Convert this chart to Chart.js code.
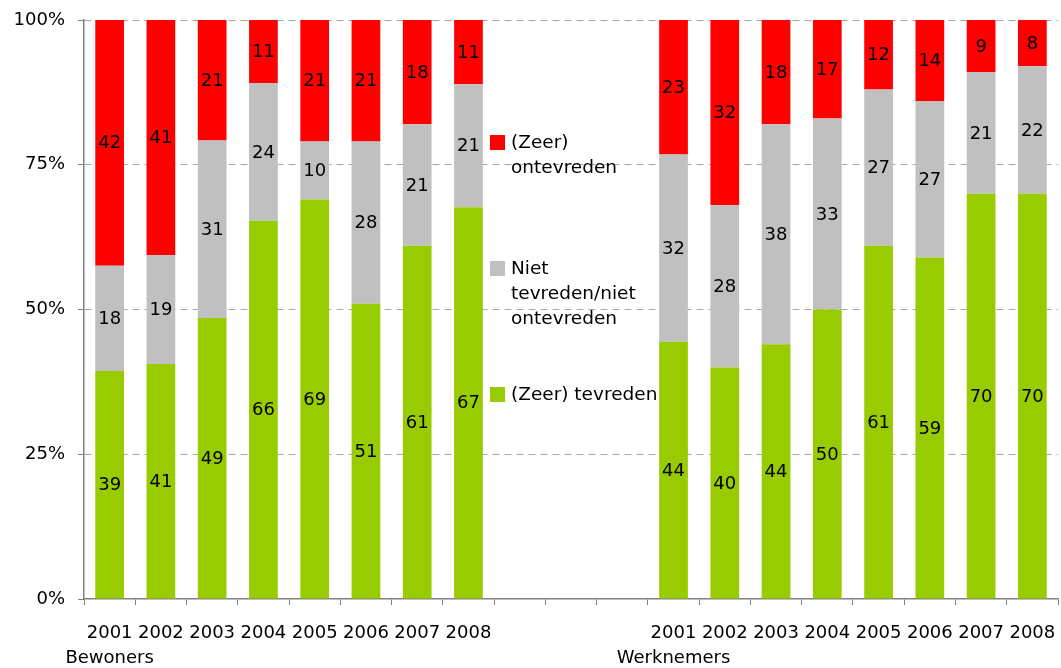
<!DOCTYPE html>
<html>
<head>
<meta charset="utf-8">
<title>Tevredenheid bewoners en werknemers</title>
<script src="https://cdn.jsdelivr.net/npm/chart.js@4.4.1/dist/chart.umd.min.js"></script>
<style>
  html, body { margin: 0; padding: 0; background: #fff; }
  #chart { display: block; }
</style>
</head>
<body>
<canvas id="chart" width="1061" height="668"></canvas>
<script>
// values as printed in the bars (they do not always add up to exactly 100)
const years = ['2001', '2002', '2003', '2004', '2005', '2006', '2007', '2008'];
const groups = ['Bewoners', 'Werknemers'];
const gapCount = 3;

const seriesNames = ['(Zeer) ontevreden', 'Niet tevreden/niet ontevreden', '(Zeer) tevreden'];

const bewonersTevreden   = [39, 41, 49, 66, 69, 51, 61, 67];
const bewonersNeutraal   = [18, 19, 31, 24, 10, 28, 21, 21];
const bewonersOntevreden = [42, 41, 21, 11, 21, 21, 18, 11];

const werknemersTevreden   = [44, 40, 44, 50, 61, 59, 70, 70];
const werknemersNeutraal   = [32, 28, 38, 33, 27, 27, 21, 22];
const werknemersOntevreden = [23, 32, 18, 17, 12, 14, 9, 8];

const colors = { ontevreden: '#FF0000', neutraal: '#C0C0C0', tevreden: '#99CC00' };
const FONT = '"DejaVu Sans", Verdana, sans-serif';

// build labels: group name goes under the first year of every group
function buildLabels() {
  const out = [];
  years.forEach((y, i) => out.push(i === 0 ? [y, groups[0]] : y));
  for (let i = 0; i < gapCount; i++) out.push('');
  years.forEach((y, i) => out.push(i === 0 ? [y, groups[1]] : y));
  return out;
}

function joinWithGap(a, b) {
  return [...a, ...new Array(gapCount).fill(null), ...b];
}

const rawTevreden = joinWithGap(bewonersTevreden, werknemersTevreden);
const rawNeutraal = joinWithGap(bewonersNeutraal, werknemersNeutraal);
const rawOntevreden = joinWithGap(bewonersOntevreden, werknemersOntevreden);

// 100% stacked: scale every column to its own total
const totals = rawTevreden.map((v, i) => v === null ? null : v + rawNeutraal[i] + rawOntevreden[i]);
const toPct = arr => arr.map((v, i) => v === null ? null : v / totals[i] * 100);

const rawByDataset = [rawTevreden, rawNeutraal, rawOntevreden];

const valueLabels = {
  id: 'valueLabels',
  afterDatasetsDraw(chart) {
    const ctx = chart.ctx;
    ctx.save();
    ctx.font = '18px ' + FONT;
    ctx.fillStyle = '#000';
    ctx.textAlign = 'center';
    ctx.textBaseline = 'middle';
    chart.data.datasets.forEach((ds, di) => {
      const meta = chart.getDatasetMeta(di);
      meta.data.forEach((bar, i) => {
        const raw = rawByDataset[di][i];
        if (raw === null) return;
        const p = bar.getProps(['x', 'y', 'base'], true);
        ctx.fillText(String(raw), p.x, (p.y + p.base) / 2 + 1);
      });
    });
    ctx.restore();
  }
};

// legend sits inside the plot, in the empty space between the groups
const legendItems = [
  { color: colors.ontevreden, lines: ['(Zeer)', 'ontevreden'], y: 142 },
  { color: colors.neutraal, lines: ['Niet', 'tevreden/niet', 'ontevreden'], y: 268 },
  { color: colors.tevreden, lines: ['(Zeer) tevreden'], y: 394 }
];

const innerLegend = {
  id: 'innerLegend',
  afterDraw(chart) {
    const ctx = chart.ctx;
    const x = 490;
    ctx.save();
    ctx.font = '18.5px ' + FONT;
    ctx.textAlign = 'left';
    ctx.textBaseline = 'middle';
    legendItems.forEach(item => {
      ctx.fillStyle = item.color;
      ctx.fillRect(x, item.y - 7, 15, 15);
      ctx.fillStyle = '#000';
      item.lines.forEach((line, k) => {
        ctx.fillText(line, x + 21, item.y + 1 + k * 25);
      });
    });
    ctx.restore();
  }
};

const ctx = document.getElementById('chart').getContext('2d');
const chart = new Chart(ctx, {
  type: 'bar',
  data: {
    labels: buildLabels(),
    datasets: [
      { label: seriesNames[2], data: toPct(rawTevreden), backgroundColor: colors.tevreden },
      { label: seriesNames[1], data: toPct(rawNeutraal), backgroundColor: colors.neutraal },
      { label: seriesNames[0], data: toPct(rawOntevreden), backgroundColor: colors.ontevreden }
    ]
  },
  options: {
    responsive: false,
    animation: false,
    layout: { padding: { top: 20, right: 3, left: 0, bottom: 0 } },
    datasets: {
      bar: { categoryPercentage: 1, barPercentage: 0.56, borderWidth: 0 }
    },
    plugins: {
      legend: { display: false },
      tooltip: { enabled: false }
    },
    scales: {
      x: {
        stacked: true,
        grid: {
          display: true,
          drawOnChartArea: false,
          offset: true,
          tickLength: 6,
          tickColor: '#808080'
        },
        border: { color: '#808080', width: 1.5 },
        ticks: {
          autoSkip: false,
          maxRotation: 0,
          minRotation: 0,
          padding: 16,
          color: '#000',
          font: { family: FONT, size: 18, lineHeight: 1.4 }
        },
        afterFit(scale) {
          scale.height = 69;
          // let the outer labels hang over the edges instead of shrinking the plot
          scale.paddingLeft = 0;
          scale.paddingRight = 0;
        }
      },
      y: {
        stacked: true,
        min: 0,
        max: 100,
        grid: {
          color: c => c.tick && c.tick.value === 0 ? 'rgba(0,0,0,0)' : '#A8A8A8',
          tickLength: 6,
          tickColor: '#808080'
        },
        border: { color: '#808080', width: 1.5, dash: [7, 5] },
        ticks: {
          stepSize: 25,
          padding: 13,
          color: '#000',
          font: { family: FONT, size: 18 },
          callback: v => v + '%'
        },
        afterFit(scale) {
          scale.width = 84;
          scale.paddingTop = 0;
          scale.paddingBottom = 0;
        }
      }
    }
  },
  plugins: [valueLabels, innerLegend]
});
</script>
</body>
</html>
